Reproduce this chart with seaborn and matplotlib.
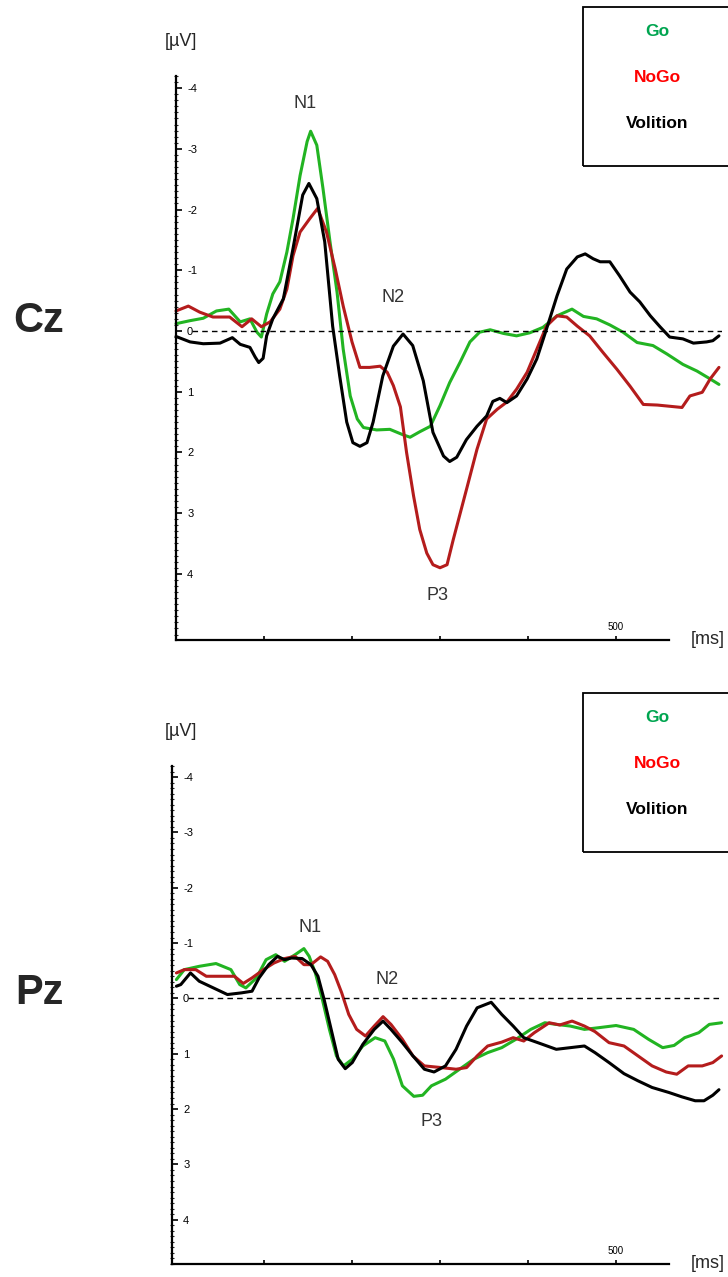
import numpy as np
import pandas as pd
import matplotlib
matplotlib.use('Agg')
import matplotlib.pyplot as plt
import matplotlib.patches as patches
from matplotlib.ticker import MultipleLocator
import seaborn as sns

# ---- Cz (top panel), time in ms, amplitude in uV (negative up) ----
cz_vol_t = [0, 16, 31, 50, 64, 73, 84, 90, 94, 99, 103, 110, 122, 133, 144, 151, 160, 169, 178, 186,
            194, 201, 209, 217, 224, 235, 247, 258, 269, 281, 292, 304, 311, 319, 330, 342, 353, 360, 368, 376,
            387, 399, 410, 421, 433, 444, 456, 465, 474, 482, 493, 504, 516, 527, 539, 550, 561, 576, 588, 603,
            610, 617]
cz_vol_v = [0.09, 0.18, 0.21, 0.2, 0.11, 0.22, 0.27, 0.43, 0.52, 0.45, 0.08, -0.2, -0.53, -1.36, -2.24, -2.43, -2.18, -1.47, -0.08, 0.74,
            1.5, 1.84, 1.9, 1.84, 1.5, 0.74, 0.25, 0.05, 0.24, 0.82, 1.67, 2.06, 2.15, 2.08, 1.79, 1.57, 1.4, 1.16, 1.11, 1.18,
            1.07, 0.79, 0.46, -0.03, -0.58, -1.02, -1.22, -1.27, -1.19, -1.14, -1.14, -0.91, -0.64, -0.48, -0.25, -0.07, 0.1, 0.13, 0.2, 0.18,
            0.16, 0.08]

cz_go_t = [0, 16, 31, 46, 60, 73, 84, 92, 97, 103, 110, 118, 126, 133, 141, 149, 153, 160, 167, 175,
           183, 190, 198, 206, 213, 228, 243, 258, 266, 277, 289, 300, 311, 323, 334, 345, 357, 372, 387, 402,
           417, 433, 450, 463, 478, 493, 508, 524, 542, 558, 576, 592, 607, 617]
cz_go_v = [-0.12, -0.17, -0.21, -0.33, -0.36, -0.15, -0.2, 0.02, 0.1, -0.28, -0.61, -0.81, -1.3, -1.85, -2.56, -3.12, -3.29, -3.06, -2.35, -1.47,
           -0.64, 0.3, 1.07, 1.45, 1.59, 1.63, 1.62, 1.71, 1.75, 1.66, 1.57, 1.23, 0.85, 0.51, 0.18, 0.02, -0.02, 0.04, 0.08, 0.03,
           -0.06, -0.25, -0.36, -0.24, -0.2, -0.1, 0.02, 0.19, 0.24, 0.38, 0.55, 0.66, 0.79, 0.88]

cz_nogo_t = [0, 14, 27, 42, 61, 75, 86, 97, 107, 118, 126, 133, 141, 152, 161, 171, 181, 190, 200, 209,
             220, 232, 240, 247, 255, 262, 270, 277, 285, 292, 300, 308, 315, 323, 331, 342, 353, 365, 376, 387,
             399, 410, 421, 433, 444, 456, 470, 485, 501, 516, 531, 547, 561, 575, 584, 598, 607, 617]
cz_nogo_v = [-0.33, -0.41, -0.31, -0.23, -0.23, -0.07, -0.2, -0.07, -0.15, -0.36, -0.69, -1.24, -1.63, -1.85, -2.02, -1.63, -1.02, -0.41, 0.18, 0.6,
             0.6, 0.58, 0.68, 0.9, 1.25, 2.0, 2.72, 3.27, 3.66, 3.85, 3.9, 3.85, 3.44, 3.0, 2.56, 1.95, 1.45, 1.29, 1.17, 0.96,
             0.68, 0.3, -0.08, -0.25, -0.23, -0.08, 0.08, 0.35, 0.63, 0.91, 1.21, 1.22, 1.24, 1.26, 1.07, 1.01, 0.79, 0.6]

# ---- Pz (bottom panel) ----
pz_vol_t = [0, 5, 16, 26, 42, 58, 74, 86, 94, 105, 115, 123, 131, 143, 153, 161, 168, 176, 184, 192,
            200, 212, 225, 235, 244, 257, 269, 282, 293, 306, 318, 330, 342, 358, 370, 383, 395, 411, 432, 448,
            464, 476, 492, 509, 525, 541, 560, 575, 590, 600, 610, 617]
pz_vol_v = [-0.22, -0.25, -0.46, -0.31, -0.19, -0.07, -0.1, -0.13, -0.37, -0.61, -0.76, -0.7, -0.73, -0.72, -0.61, -0.4, 0.02, 0.56, 1.1, 1.27,
            1.16, 0.83, 0.56, 0.41, 0.56, 0.8, 1.04, 1.28, 1.33, 1.22, 0.92, 0.5, 0.17, 0.07, 0.29, 0.5, 0.71, 0.8, 0.92, 0.89,
            0.86, 0.98, 1.16, 1.36, 1.49, 1.61, 1.7, 1.78, 1.85, 1.85, 1.75, 1.65]

pz_go_t = [0, 9, 26, 45, 62, 72, 79, 91, 102, 113, 123, 135, 145, 151, 158, 166, 174, 182, 190, 200,
           212, 226, 237, 247, 257, 270, 280, 290, 306, 322, 338, 354, 370, 386, 403, 419, 432, 448, 464, 480,
           500, 520, 537, 553, 566, 578, 594, 606, 620]
pz_go_v = [-0.34, -0.52, -0.58, -0.63, -0.52, -0.25, -0.19, -0.37, -0.7, -0.79, -0.67, -0.79, -0.9, -0.76, -0.46, 0.02, 0.56, 1.04, 1.22, 1.1,
           0.86, 0.71, 0.77, 1.1, 1.58, 1.77, 1.75, 1.58, 1.46, 1.28, 1.1, 0.98, 0.89, 0.74, 0.56, 0.44, 0.47, 0.5, 0.56, 0.53,
           0.49, 0.56, 0.74, 0.89, 0.85, 0.71, 0.62, 0.47, 0.44]

pz_nogo_t = [0, 9, 22, 34, 55, 66, 76, 86, 99, 111, 123, 135, 145, 153, 164, 172, 180, 188, 196, 205,
             215, 225, 235, 244, 257, 269, 282, 301, 318, 330, 342, 354, 370, 383, 395, 407, 424, 436, 450, 464,
             476, 492, 509, 525, 541, 557, 569, 582, 598, 610, 620]
pz_nogo_v = [-0.46, -0.52, -0.52, -0.4, -0.4, -0.4, -0.27, -0.37, -0.52, -0.64, -0.72, -0.76, -0.61, -0.61, -0.75, -0.67, -0.43, -0.1, 0.29, 0.56,
             0.68, 0.5, 0.33, 0.47, 0.74, 1.04, 1.22, 1.25, 1.28, 1.25, 1.04, 0.86, 0.79, 0.71, 0.77, 0.62, 0.44, 0.48, 0.41, 0.5,
             0.6, 0.8, 0.86, 1.04, 1.22, 1.33, 1.37, 1.22, 1.22, 1.16, 1.04]

conditions = ['Go', 'NoGo', 'Volition']
line_colors = {'Go': '#22b422', 'NoGo': '#b41c1c', 'Volition': '#000000'}
text_colors = {'Go': '#00a550', 'NoGo': '#ff0000', 'Volition': '#000000'}
y_ticks = [-4, -3, -2, -1, 0, 1, 2, 3, 4]
x_ticks = [100, 200, 300, 400, 500]
x_ticklabels = ['', '', '', '', '500']


def to_long(series):
    frames = []
    for cond, (t, v) in series.items():
        frames.append(pd.DataFrame({'time': t, 'amp': v, 'cond': cond}))
    return pd.concat(frames, ignore_index=True)


sns.set_theme(style='white')
plt.rcParams['font.family'] = ['Liberation Sans', 'DejaVu Sans']
plt.rcParams['axes.unicode_minus'] = False

W, H = 728, 1277
fig = plt.figure(figsize=(W / 100, H / 100), dpi=100)


def panel(top_px, bot_px, left_px, xmin, ymin, ymax, series, name, peaks, box_top, box_bot, name_y):
    right_px = 176 + 620 * 0.88
    ax = fig.add_axes([left_px / W, 1 - bot_px / H, (right_px - left_px) / W, (bot_px - top_px) / H])
    df = to_long(series)
    # green first, then red, black on top
    sns.lineplot(data=df, x='time', y='amp', hue='cond', hue_order=['Go', 'NoGo', 'Volition'],
                 palette=line_colors, estimator=None, sort=True, lw=2.2, legend=False, ax=ax,
                 clip_on=False)
    ax.axhline(0, xmin=0.03, xmax=1, color='black', lw=1, ls=(0, (4, 3)))
    ax.set_xlim(xmin, 620)
    ax.set_ylim(ymax, ymin)
    ax.set_xlabel('')
    ax.set_ylabel('')
    for s in ['top', 'right']:
        ax.spines[s].set_visible(False)
    ax.spines['left'].set_linewidth(1.6)
    ax.spines['bottom'].set_linewidth(1.6)
    ax.spines['left'].set_color('black')
    ax.spines['bottom'].set_color('black')
    ax.spines['bottom'].set_bounds(xmin, 560)

    ax.set_yticks(y_ticks)
    ax.set_yticklabels([str(v) for v in y_ticks])
    ax.yaxis.set_minor_locator(MultipleLocator(0.1))
    ax.tick_params(axis='y', which='major', direction='in', length=4, width=1.2, pad=-8,
                   labelsize=8, left=True, colors='black')
    ax.tick_params(axis='y', which='minor', direction='inout', length=3, width=0.8, left=True)
    for lbl in ax.get_yticklabels():
        lbl.set_horizontalalignment('left')

    ax.set_xticks(x_ticks)
    ax.set_xticklabels(x_ticklabels)
    ax.tick_params(axis='x', which='major', direction='in', length=3, width=1.2, pad=-6,
                   labelsize=7, bottom=True, colors='black')
    for lbl in ax.get_xticklabels():
        lbl.set_verticalalignment('bottom')

    # peak labels
    for txt, (px, py) in peaks.items():
        fig.text(px / W, 1 - py / H, txt, fontsize=13, color='#333333', ha='center', va='center')

    fig.text(181 / W, 1 - (top_px - 34) / H, '[\u00b5V]', fontsize=13, ha='center', va='center')
    fig.text(708 / W, 1 - bot_px / H, '[ms]', fontsize=13, ha='center', va='center')
    fig.text(39 / W, 1 - name_y / H, name, fontsize=30, fontweight='bold', ha='center', va='center')

    # legend box
    rect = patches.Rectangle((583 / W, 1 - box_bot / H), 0.3, (box_bot - box_top) / H,
                             transform=fig.transFigure, fill=False, edgecolor='black', lw=1.3)
    fig.patches.append(rect)
    for i, cond in enumerate(conditions):
        fig.text(657 / W, 1 - (box_top + 24 + 46 * i) / H, cond, fontsize=12.5,
                 fontweight='bold', color=text_colors[cond], ha='center', va='center')
    return ax


panel(76, 640, 176, 0, -4.2, 5.09,
      {'Go': (cz_go_t, cz_go_v), 'NoGo': (cz_nogo_t, cz_nogo_v), 'Volition': (cz_vol_t, cz_vol_v)},
      'Cz', {'N1': (305, 104), 'N2': (393, 298), 'P3': (438, 595)}, 7, 166, 321)

panel(766, 1264, 172, -5, -4.2, 4.8,
      {'Go': (pz_go_t, pz_go_v), 'NoGo': (pz_nogo_t, pz_nogo_v), 'Volition': (pz_vol_t, pz_vol_v)},
      'Pz', {'N1': (310, 927), 'N2': (387, 980), 'P3': (432, 1122)}, 693, 852, 993)

fig.savefig('out.png', dpi=100)
